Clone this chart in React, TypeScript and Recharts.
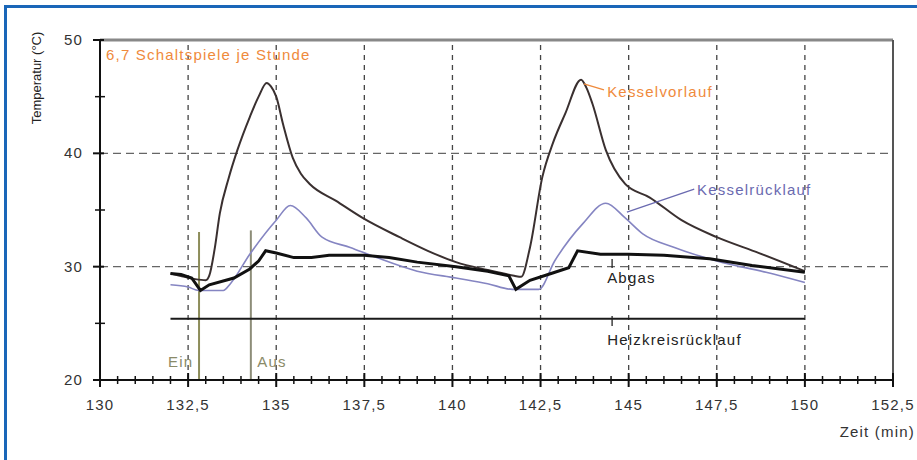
import {
  LineChart,
  Line,
  XAxis,
  YAxis,
  ReferenceLine,
  ReferenceDot,
} from "recharts"

// Kesselvorlauf (boiler flow), °C over time in minutes
const vorlaufTime = [132.0, 132.4, 132.7, 133.0, 133.1, 133.25, 133.4, 133.65, 133.9, 134.25, 134.5, 134.73, 134.85, 135.0, 135.2, 135.47, 135.7, 135.95, 136.7, 137.45, 138.5, 139.3, 140.1, 141.0, 141.75, 141.95, 142.2, 142.55, 142.85, 143.2, 143.65, 143.8, 143.97, 144.35, 144.9, 145.6, 146.5, 147.5, 148.7, 150.0]
const vorlaufTemp = [29.4, 29.1, 28.9, 28.8, 29.2, 31.5, 34.7, 37.8, 40.3, 43.2, 45.0, 46.2, 45.9, 45.0, 42.5, 39.6, 38.2, 37.3, 35.8, 34.3, 32.6, 31.4, 30.4, 29.7, 29.2, 29.1, 31.7, 37.9, 40.9, 43.5, 46.5, 45.8, 44.4, 40.3, 37.3, 36.1, 34.1, 32.6, 31.2, 29.6]

// Kesselrücklauf (boiler return)
const ruecklaufTime = [132.0, 132.5, 132.8, 133.5, 133.7, 134.25, 135.0, 135.4, 135.85, 136.3, 137.1, 137.85, 139.0, 140.1, 141.0, 141.7, 142.45, 142.9, 143.7, 144.35, 144.9, 145.4, 146.3, 147.5, 148.9, 150.0]
const ruecklaufTemp = [28.4, 28.2, 27.9, 27.9, 28.5, 31.1, 34.1, 35.4, 34.3, 32.6, 31.7, 30.8, 29.6, 29.0, 28.5, 28.0, 28.0, 30.5, 33.8, 35.6, 34.3, 32.9, 31.7, 30.5, 29.5, 28.6]

// Abgas (flue gas)
const abgasTime = [132.0, 132.3, 132.6, 132.85, 133.1, 133.8, 134.25, 134.5, 134.7, 135.0, 135.5, 136.0, 136.5, 137.5, 138.2, 139.0, 140.1, 141.0, 141.6, 141.8, 142.2, 142.8, 143.3, 143.55, 144.2, 145.0, 146.0, 147.3, 148.5, 150.0]
const abgasTemp = [29.4, 29.3, 29.0, 27.9, 28.4, 29.0, 29.8, 30.5, 31.4, 31.2, 30.8, 30.8, 31.0, 31.0, 30.8, 30.4, 30.0, 29.6, 29.2, 28.0, 28.8, 29.4, 29.9, 31.4, 31.1, 31.1, 31.0, 30.7, 30.1, 29.5]

// Heizkreisrücklauf (heating circuit return)
const heizTime = [132.0, 141.0, 150.0]
const heizTemp = [25.4, 25.4, 25.4]

// burner on / off
const einTime = 132.81
const ausTime = 134.28

const xMajorTicks = [130, 132.5, 135, 137.5, 140, 142.5, 145, 147.5, 150, 152.5]
const xAllTicks = Array.from({ length: 46 }, (_, i) => 130 + i * 0.5)
const yMajorTicks = [20, 30, 40, 50]
const yAllTicks = [20, 25, 30, 35, 40, 45, 50]
const hGrid = [30, 40]

const toPoints = (xs: number[], ys: number[]) => xs.map((x, i) => ({ x, y: ys[i] }))

const font = "'Liberation Sans', Arial, sans-serif"
const fmt = (v: number) => String(v).replace(".", ",")

function XTick(props: any) {
  const { x, y, payload } = props
  const major = xMajorTicks.includes(payload.value)
  const h = major ? 7 : 4
  return (
    <g>
      <line x1={x} x2={x} y1={y - h} y2={y + h} stroke="#111" strokeWidth={major ? 2 : 1.5} />
      {major && (
        <text x={x} y={y + 30} textAnchor="middle" fontFamily={font} fontSize={15} letterSpacing={1.2} fill="#333">
          {fmt(payload.value)}
        </text>
      )}
    </g>
  )
}

function YTick(props: any) {
  const { x, y, payload } = props
  const major = yMajorTicks.includes(payload.value)
  return (
    <g>
      <line x1={x - (major ? 7 : 5)} x2={x + (major ? 4 : 5)} y1={y} y2={y} stroke="#111" strokeWidth={major ? 2 : 1.5} />
      {major && (
        <text x={x - 17} y={y + 5} textAnchor="end" fontFamily={font} fontSize={15} letterSpacing={1.2} fill="#333">
          {payload.value}
        </text>
      )}
    </g>
  )
}

const notes = [
  { x: 130.17, y: 48.68, text: "6,7 Schaltspiele je Stunde", color: "#ef8a3c" },
  { x: 144.39, y: 45.41, text: "Kesselvorlauf", color: "#ef8a3c" },
  { x: 146.94, y: 36.76, text: "Kesselrücklauf", color: "#6a6ab0" },
  { x: 144.39, y: 29.0, text: "Abgas", color: "#222" },
  { x: 144.39, y: 23.53, text: "Heizkreisrücklauf", color: "#222" },
  { x: 131.93, y: 21.59, text: "Ein", color: "#8a8a68" },
  { x: 134.46, y: 21.59, text: "Aus", color: "#8a8a68" },
]

const leaders = [
  { from: { x: 143.73, y: 46.12 }, to: { x: 144.3, y: 45.59 }, color: "#ef8a3c" },
  { from: { x: 144.95, y: 34.82 }, to: { x: 146.86, y: 36.85 }, color: "#6a6ab0" },
  { from: { x: 144.53, y: 30.68 }, to: { x: 144.53, y: 29.88 }, color: "#222" },
  { from: { x: 144.53, y: 25.65 }, to: { x: 144.53, y: 24.76 }, color: "#222" },
]

export default function App() {
  return (
    <div style={{ position: "absolute", left: 0, top: 0, width: 917, height: 460, background: "#fff" }}>
      <div
        style={{
          position: "absolute",
          left: 4,
          top: 5,
          width: 913,
          height: 455,
          borderTop: "3px solid #1a66b8",
          borderLeft: "3px solid #1a66b8",
          boxSizing: "border-box",
        }}
      />
      <div style={{ position: "absolute", left: 0, top: 0 }}>
        <LineChart width={917} height={460} margin={{ top: 40, right: 24, bottom: 50, left: 0 }}>
          <XAxis
            type="number"
            dataKey="x"
            domain={[130, 152.5]}
            ticks={xAllTicks}
            interval={0}
            allowDataOverflow
            height={30}
            tickSize={0}
            tickMargin={0}
            tickLine={false}
            axisLine={{ stroke: "#111", strokeWidth: 2 }}
            tick={<XTick />}
          />
          <YAxis
            type="number"
            domain={[20, 50]}
            ticks={yAllTicks}
            interval={0}
            width={100}
            tickSize={0}
            tickMargin={0}
            tickLine={false}
            axisLine={{ stroke: "#111", strokeWidth: 2 }}
            tick={<YTick />}
          />
          {xMajorTicks.slice(1, -1).map((v) => (
            <ReferenceLine key={"gx" + v} x={v} stroke="#444" strokeWidth={1.3} strokeDasharray="5 5" />
          ))}
          {hGrid.map((v) => (
            <ReferenceLine key={"gy" + v} y={v} stroke="#666" strokeWidth={1.3} strokeDasharray="8 5" />
          ))}
          <ReferenceLine y={50} stroke="#888" strokeWidth={3} />
          <ReferenceLine x={152.5} stroke="#555" strokeWidth={2} />
          <ReferenceLine segment={[{ x: einTime, y: 20 }, { x: einTime, y: 33.06 }]} stroke="#8d8d5a" strokeWidth={2} />
          <ReferenceLine segment={[{ x: ausTime, y: 20 }, { x: ausTime, y: 33.2 }]} stroke="#8d8d78" strokeWidth={2} />
          <Line data={toPoints(heizTime, heizTemp)} dataKey="y" type="linear" stroke="#1a1a1a" strokeWidth={2} dot={false} isAnimationActive={false} />
          <Line data={toPoints(ruecklaufTime, ruecklaufTemp)} dataKey="y" type="monotone" stroke="#8585c2" strokeWidth={1.6} dot={false} isAnimationActive={false} />
          <Line data={toPoints(vorlaufTime, vorlaufTemp)} dataKey="y" type="monotone" stroke="#3a3030" strokeWidth={2} dot={false} isAnimationActive={false} />
          <Line data={toPoints(abgasTime, abgasTemp)} dataKey="y" type="linear" stroke="#111" strokeWidth={3} dot={false} isAnimationActive={false} />
          {leaders.map((l, i) => (
            <ReferenceLine key={"l" + i} segment={[l.from, l.to]} stroke={l.color} strokeWidth={1.3} />
          ))}
          {notes.map((n) => (
            <ReferenceDot
              key={n.text}
              x={n.x}
              y={n.y}
              r={0}
              shape={(p: any) => (
                <text x={p.cx} y={p.cy} dy="0.36em" fontFamily={font} fontSize={15} letterSpacing={1.2} fill={n.color}>
                  {n.text}
                </text>
              )}
            />
          ))}
        </LineChart>
      </div>
      <svg width={917} height={460} style={{ position: "absolute", left: 0, top: 0, pointerEvents: "none" }}>
        <text
          transform="translate(41, 78) rotate(-90)"
          textAnchor="middle"
          fontFamily={font}
          fontSize={13}
          fill="#222"
        >
          Temperatur (°C)
        </text>
        <text x={915} y={437} textAnchor="end" fontFamily={font} fontSize={15} letterSpacing={1.2} fill="#333">
          Zeit (min)
        </text>
      </svg>
    </div>
  )
}
